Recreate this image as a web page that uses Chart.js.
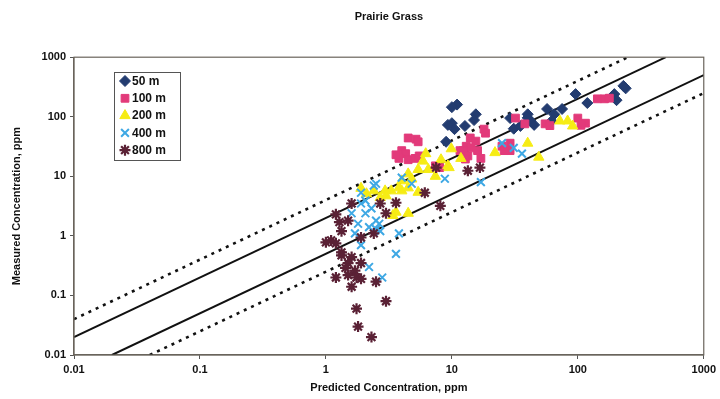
<!DOCTYPE html>
<html>
<head>
<meta charset="utf-8">
<script src="https://cdn.jsdelivr.net/npm/chart.js@4/dist/chart.umd.min.js"></script>
<style>
  html, body { margin: 0; padding: 0; background: #fff; }
  #wrap { width: 720px; height: 399px; }
</style>
</head>
<body>
<div id="wrap"><canvas id="grassChart"></canvas></div>
<script>
// -------------------------
// DATA
// -------------------------

const seriesNames = ["50 m", "100 m", "200 m", "400 m", "800 m"];
const axisTicks = [0.01, 0.1, 1, 10, 100, 1000];

// ratio lines: solid = factor of 2, dotted = factor of 4
const solidFactors = [2, 0.5];
const dottedFactors = [4, 0.25];

const pred50 = [11, 10, 15.5, 15, 10, 9.3, 12.7, 9, 10.5, 29, 31, 40, 42, 45, 40, 57, 65, 75, 96, 119, 195, 203, 230, 240, 35, 62];
const meas50 = [160, 145, 110, 88, 78, 73, 70, 38, 62, 95, 63, 110, 85, 73, 96, 135, 110, 135, 240, 170, 240, 190, 330, 300, 70, 85];

const pred100 = [4.5, 5.2, 5.4, 4.0, 4.3, 3.8, 4.5, 5.1, 5.5, 7.4, 8, 18, 18.5, 14, 15.5, 13, 14.2, 16, 12.3, 13.4, 17, 12.8, 11.6, 25, 29, 29, 26, 32, 38, 55, 60, 100, 115, 106, 143, 163, 178, 3.6];
const meas100 = [44, 42, 38, 27, 24, 20, 19, 20, 22, 15, 14, 62, 53, 44, 39, 32, 30, 27, 27, 22, 20, 19.5, 27, 32, 36, 27, 27, 95, 76, 76, 71, 95, 78, 72, 200, 200, 205, 23];

const pred200 = [6.2, 5.9, 5.4, 4.5, 4.8, 4.0, 3.8, 3.3, 2.95, 2.4, 2.1, 2.7, 3.0, 4.5, 5.4, 3.6, 4.5, 3.4, 6.5, 7.4, 9.9, 9.3, 11.8, 9.5, 22, 40, 49, 72, 83, 91, 4.0, 8.2, 1.9];
const meas200 = [24, 18, 13, 11, 9, 8.4, 6.4, 5.7, 5.7, 5.7, 5.1, 4.4, 4.7, 6.4, 5.4, 2.5, 2.4, 2.2, 13, 10, 29, 15, 20, 14, 25, 36, 21, 85, 85, 70, 5.7, 19, 6.3];

const pred400 = [25, 31, 36, 17, 8.8, 4.8, 4.0, 2.5, 1.9, 2.4, 1.9, 2.06, 1.8, 2.5, 2.65, 2.2, 2.5, 3.8, 1.9, 3.6, 2.2, 2.8, 1.6, 2.7, 2.06, 2.3, 1.7];
const meas400 = [36, 30, 24, 8, 9.1, 7.5, 9.5, 7.5, 5.3, 7.0, 3.5, 2.4, 1.6, 1.8, 1.6, 1.4, 1.3, 1.1, 0.7, 0.5, 0.3, 0.2, 2.4, 1.2, 3.9, 2.9, 1.1];

const pred800 = [6.1, 8.1, 3.6, 2.7, 3.0, 1.6, 1.2, 1.5, 1.33, 1.1, 1.0, 1.2, 1.33, 1.6, 1.5, 1.43, 1.7, 1.2, 1.5, 1.75, 1.9, 2.5, 1.6, 3.0, 1.75, 1.8, 2.3, 13.4, 16.7, 7.5, 2.4, 1.9, 1.9, 1.33, 1.28];
const meas800 = [5.3, 3.2, 3.6, 3.5, 2.4, 3.5, 2.3, 1.8, 1.2, 0.84, 0.78, 0.75, 0.53, 0.44, 0.35, 0.29, 0.26, 0.2, 0.22, 0.2, 0.19, 0.17, 0.14, 0.08, 0.06, 0.03, 0.02, 12.4, 14, 14, 1.1, 0.94, 0.35, 0.47, 1.7];

// -------------------------
// STYLES
// -------------------------

const seriesStyles = [
    { color: "#233c70", style: "rectRot", radius: 5.5, border: 1 },
    { color: "#e23a7a", style: "rect", radius: 5.5, border: 1 },
    { color: "#f6ec14", style: "triangle", radius: 6, border: 1 },
    { color: "#3ea8e4", style: "crossRot", radius: 5.5, border: 2 },
    { color: "#5a2135", style: "star", radius: 5.5, border: 2.2 }
];

const FONT = "'Liberation Sans', Arial, sans-serif";
const AXIS_MIN = axisTicks[0];
const AXIS_MAX = axisTicks[axisTicks.length - 1];

function pairUp(xs, ys) {
    return xs.map((x, i) => ({ x: x, y: ys[i] }));
}

// endpoints of y = k*x clipped to the axis box
function ratioLine(k) {
    const x0 = Math.max(AXIS_MIN, AXIS_MIN / k);
    const x1 = Math.min(AXIS_MAX, AXIS_MAX / k);
    return [{ x: x0, y: k * x0 }, { x: x1, y: k * x1 }];
}

const scatterSets = [
    [pred50, meas50], [pred100, meas100], [pred200, meas200], [pred400, meas400], [pred800, meas800]
].map((pair, i) => {
    const s = seriesStyles[i];
    return {
        type: "scatter",
        label: seriesNames[i],
        data: pairUp(pair[0], pair[1]),
        pointStyle: s.style,
        pointRadius: s.radius,
        pointBorderWidth: s.border,
        backgroundColor: s.color,
        borderColor: s.color,
        order: 5 - i
    };
});

const lineSets = solidFactors.map(k => ({
    type: "line",
    label: "solid " + k,
    data: ratioLine(k),
    borderColor: "#111",
    borderWidth: 2,
    pointRadius: 0,
    order: 20
})).concat(dottedFactors.map(k => ({
    type: "line",
    label: "dotted " + k,
    data: ratioLine(k),
    borderColor: "#111",
    borderWidth: 2.6,
    borderDash: [3, 5],
    pointRadius: 0,
    order: 20
})));

// -------------------------
// FRAME + LEGEND PLUGIN
// -------------------------

const frameAndLegend = {
    id: "frameAndLegend",
    afterDatasetsDraw(chart) {
        const ctx = chart.ctx;
        const a = chart.chartArea;
        ctx.save();
        ctx.strokeStyle = "#6a645c";
        ctx.lineWidth = 1.2;
        ctx.strokeRect(a.left, a.top, a.right - a.left, a.bottom - a.top);

        // legend box
        const bx = 114, by = 72, bw = 66, bh = 88;
        ctx.fillStyle = "#fff";
        ctx.fillRect(bx, by, bw, bh);
        ctx.strokeStyle = "#555";
        ctx.lineWidth = 1;
        ctx.strokeRect(bx + 0.5, by + 0.5, bw, bh);

        ctx.font = "bold 12px " + FONT;
        ctx.textBaseline = "middle";
        ctx.textAlign = "left";
        seriesNames.forEach((name, i) => {
            const s = seriesStyles[i];
            const y = 81 + i * 17.3;
            ctx.fillStyle = s.color;
            ctx.strokeStyle = s.color;
            ctx.lineWidth = s.border;
            Chart.helpers.drawPoint(ctx, { pointStyle: s.style, radius: s.radius, borderWidth: s.border, rotation: 0 }, 125, y);
            ctx.fillStyle = "#111";
            ctx.fillText(name, 132, y + 0.5);
        });
        ctx.restore();
    }
};

function fixedTicks(scale) {
    scale.ticks = axisTicks.map(v => ({ value: v }));
}

// -------------------------
// CHART
// -------------------------

new Chart(document.getElementById("grassChart"), {
    data: { datasets: lineSets.concat(scatterSets) },
    options: {
        responsive: true,
        maintainAspectRatio: false,
        animation: false,
        layout: { padding: { top: 0, right: 13, bottom: 0, left: 0 } },
        plugins: {
            legend: { display: false },
            tooltip: { enabled: false },
            title: {
                display: true,
                text: "Prairie Grass",
                fullSize: false,
                color: "#111",
                font: { family: FONT, size: 11, weight: "bold" },
                padding: { top: 10, bottom: 34 }
            }
        },
        scales: {
            x: {
                type: "logarithmic",
                min: AXIS_MIN,
                max: AXIS_MAX,
                afterBuildTicks: fixedTicks,
                afterFit(scale) { scale.height = 44; },
                grid: { drawOnChartArea: false, drawTicks: true, tickLength: 4, color: "#555" },
                border: { display: true, color: "#6a645c", width: 1.2 },
                ticks: {
                    autoSkip: false,
                    maxRotation: 0,
                    color: "#111",
                    padding: 4,
                    font: { family: FONT, size: 11, weight: "bold" },
                    callback: v => String(v)
                },
                title: {
                    display: true,
                    text: "Predicted Concentration, ppm",
                    color: "#111",
                    font: { family: FONT, size: 11, weight: "bold" },
                    padding: { top: 2, bottom: 4 }
                }
            },
            y: {
                type: "logarithmic",
                min: AXIS_MIN,
                max: AXIS_MAX,
                afterBuildTicks: fixedTicks,
                afterFit(scale) { scale.width = 74; },
                grid: { drawOnChartArea: false, drawTicks: true, tickLength: 4, color: "#555" },
                border: { display: true, color: "#6a645c", width: 1.2 },
                ticks: {
                    autoSkip: false,
                    color: "#111",
                    padding: 4,
                    font: { family: FONT, size: 11, weight: "bold" },
                    callback: v => String(v)
                },
                title: {
                    display: true,
                    text: "Measured Concentration, ppm",
                    color: "#111",
                    font: { family: FONT, size: 11, weight: "bold" },
                    padding: { top: 10, bottom: 4 }
                }
            }
        }
    },
    plugins: [frameAndLegend]
});
</script>
</body>
</html>
